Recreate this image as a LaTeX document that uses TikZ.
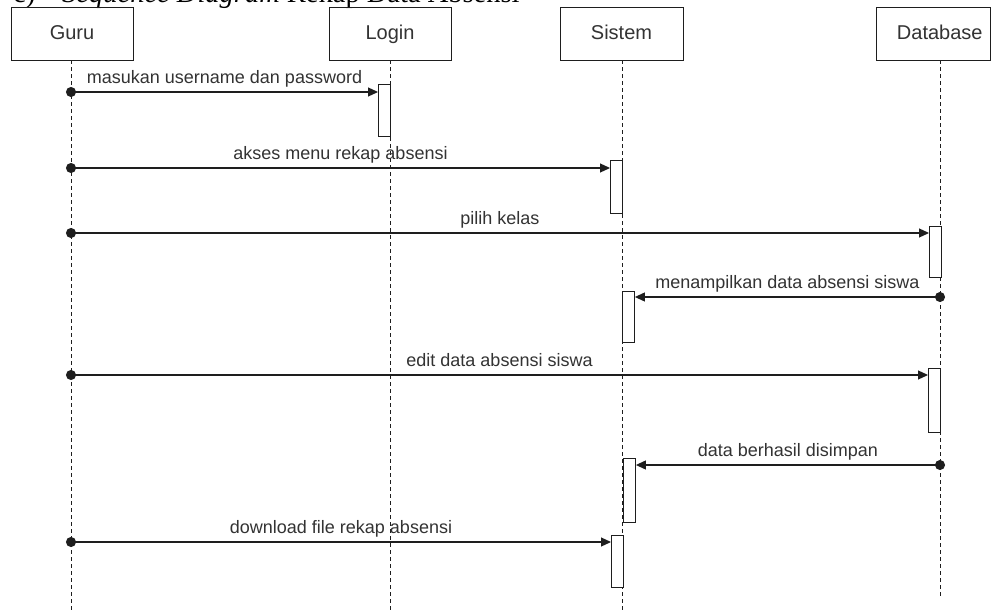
\documentclass[tikz,border=0pt]{standalone}
\usepackage{fontspec}
\setmainfont{Liberation Serif}
\newfontfamily\diagfont{Liberation Sans}
\usetikzlibrary{arrows.meta}
\definecolor{ink}{HTML}{1E1E1E}
\definecolor{txt}{HTML}{333333}

\tikzset{
  actor/.style={draw=ink, line width=0.9pt, minimum height=53pt, inner sep=0pt,
    text height=16pt, text depth=3pt,
    font=\diagfont\fontsize{20}{24}\selectfont, text=txt},
  lifeline/.style={draw=ink, line width=0.8pt, dash pattern=on 4pt off 3pt},
  activation/.style={draw=ink, fill=white, line width=0.9pt, minimum width=12pt,
    inner sep=0pt, anchor=north west},
  msg/.style={draw=ink, line width=1.1pt, shorten <=-5pt,
    {Circle[length=10pt]}-{Triangle[length=10pt,width=9pt]}},
  lbl/.style={font=\diagfont\fontsize{18}{20}\selectfont, text=txt, anchor=base, inner sep=0pt},
}

\begin{document}
\begin{tikzpicture}[x=1pt,y=-1pt]
\clip (0,0) rectangle (992,610);
\fill[white] (0,0) rectangle (992,610);

% caption line above the diagram
\node[anchor=base west, inner sep=0pt, font=\fontsize{28.5}{30}\selectfont] (capnum) at (13,3) {c)};
\node[anchor=base west, inner sep=0pt, font=\fontsize{28.5}{30}\selectfont] (caption) at (62,3)
  {\textit{Sequence Diagram} Rekap Data Absensi};

% participants
\node[actor, minimum width=122pt] (guru) at (72,33.5) {Guru};
\node[actor, minimum width=122pt] (login) at (390,33.5) {Login};
\node[actor, minimum width=123pt] (sistem) at (621.5,33.5) {Sistem};
\node[actor, anchor=east, inner xsep=8pt, text width=98pt, align=right] (db) at (991,33.5) {Database};

% lifeline end points
\coordinate (guruEnd) at (71,610);
\coordinate (loginEnd) at (390,610);
\coordinate (sistemEnd) at (622,610);
\coordinate (dbTop) at (940,60);
\coordinate (dbEnd) at (940,597);

\draw[lifeline] (guru.south -| guruEnd) -- (guruEnd);
\draw[lifeline] (login.south -| loginEnd) -- (loginEnd);
\draw[lifeline] (sistem.south -| sistemEnd) -- (sistemEnd);
\draw[lifeline] (dbTop) -- (dbEnd);

% activation bars
\node[activation, minimum height=52pt] (a1) at (378,84) {};
\node[activation, minimum height=53pt] (a2) at (610,160) {};
\node[activation, minimum height=51pt] (a3) at (929,226) {};
\node[activation, minimum height=51pt] (a4) at (622,291) {};
\node[activation, minimum height=64pt] (a5) at (928,368) {};
\node[activation, minimum height=64pt] (a6) at (623,458) {};
\node[activation, minimum height=52pt] (a7) at (611,535) {};

% message start points on the lifelines
\coordinate (m1) at (71,92);
\coordinate (m2) at (71,168);
\coordinate (m3) at (71,233);
\coordinate (m4) at (940,297);
\coordinate (m5) at (71,375);
\coordinate (m6) at (940,465);
\coordinate (m7) at (71,542);

% messages
\draw[msg] (m1) -- (a1.west |- m1) node[lbl, pos=0.5, yshift=9pt] (l1) {masukan username dan password};
\draw[msg] (m2) -- (a2.west |- m2) node[lbl, pos=0.5, yshift=9pt] (l2) {akses menu rekap absensi};
\draw[msg] (m3) -- (a3.west |- m3) node[lbl, pos=0.5, yshift=9pt] (l3) {pilih kelas};
\draw[msg] (m4) -- (a4.east |- m4) node[lbl, pos=0.5, yshift=9pt] (l4) {menampilkan data absensi siswa};
\draw[msg] (m5) -- (a5.west |- m5) node[lbl, pos=0.5, yshift=9pt] (l5) {edit data absensi siswa};
\draw[msg] (m6) -- (a6.east |- m6) node[lbl, pos=0.5, yshift=9pt] (l6) {data berhasil disimpan};
\draw[msg] (m7) -- (a7.west |- m7) node[lbl, pos=0.5, yshift=9pt] (l7) {download file rekap absensi};
\end{tikzpicture}
\end{document}
